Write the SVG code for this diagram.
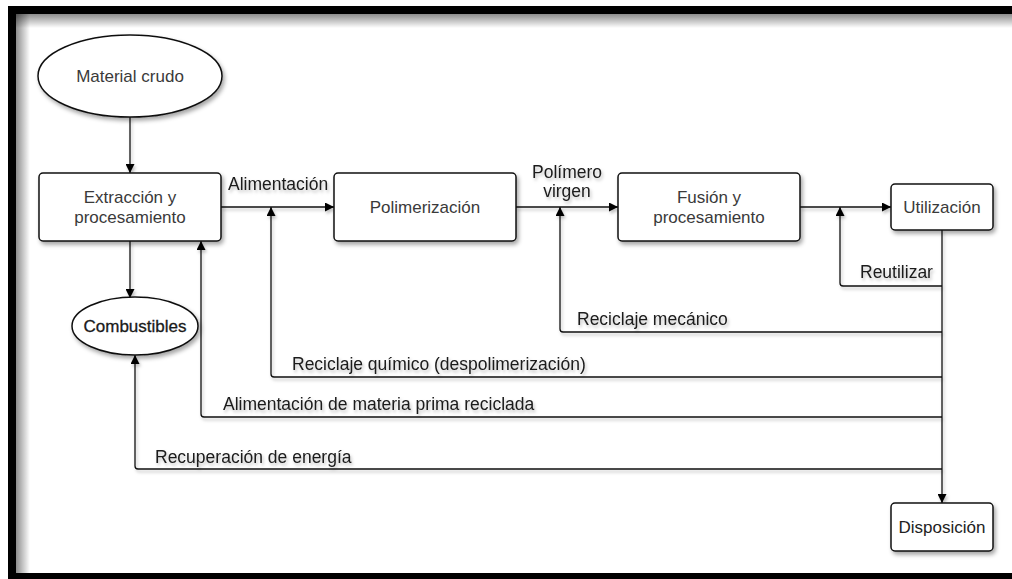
<svg xmlns="http://www.w3.org/2000/svg" width="1012" height="579" viewBox="0 0 1012 579">
  <defs>
    <style>
      .node { fill: #ffffff; stroke: #111111; stroke-width: 1.5; }
      .ntext { font-family: "Liberation Sans", Arial, sans-serif; font-size: 17px; fill: #3a3a3a; text-anchor: middle; }
      .ltext { font-family: "Liberation Sans", Arial, sans-serif; font-size: 17.5px; fill: #1a1a1a; }
      .wire { fill: none; stroke: #111111; stroke-width: 1.3; }
    </style>
    <filter id="shadow" x="-10%" y="-10%" width="130%" height="140%">
      <feDropShadow dx="2" dy="3" stdDeviation="2" flood-color="#000" flood-opacity="0.35"/>
    </filter>
    <filter id="tshadow" x="-5%" y="-30%" width="110%" height="170%">
      <feDropShadow dx="1.5" dy="2.5" stdDeviation="1.5" flood-color="#000" flood-opacity="0.25"/>
    </filter>
    <marker id="arrow" viewBox="0 0 10 10" refX="10" refY="5" markerWidth="9" markerHeight="9" markerUnits="userSpaceOnUse" orient="auto">
      <path d="M0,0 L10,5 L0,10 Z" fill="#000"/>
    </marker>
    <linearGradient id="edgeL" x1="0" y1="0" x2="1" y2="0">
      <stop offset="0" stop-color="#000" stop-opacity="0.45"/>
      <stop offset="1" stop-color="#000" stop-opacity="0"/>
    </linearGradient>
    <linearGradient id="edgeT" x1="0" y1="0" x2="0" y2="1">
      <stop offset="0" stop-color="#000" stop-opacity="0.45"/>
      <stop offset="1" stop-color="#000" stop-opacity="0"/>
    </linearGradient>
  </defs>

  <!-- page and frame -->
  <rect x="0" y="0" width="1012" height="579" fill="#ffffff"/>
  <path d="M8,6 H1012 V579 H8 Z M16,14 V573 H1012 V14 Z" fill="#000" fill-rule="evenodd"/>
  <rect x="16" y="14" width="14" height="559" fill="url(#edgeL)"/>
  <rect x="16" y="14" width="996" height="14" fill="url(#edgeT)"/>

  <!-- connectors -->
  <g id="connectors" filter="url(#tshadow)">
    <line class="wire" x1="130" y1="117" x2="130" y2="173" marker-end="url(#arrow)"/>
    <line class="wire" x1="221" y1="207" x2="334" y2="207" marker-end="url(#arrow)"/>
    <line class="wire" x1="516" y1="207" x2="618" y2="207" marker-end="url(#arrow)"/>
    <line class="wire" x1="800" y1="207" x2="891" y2="207" marker-end="url(#arrow)"/>
    <line class="wire" x1="130" y1="241" x2="130" y2="298" marker-end="url(#arrow)"/>
    <line class="wire" x1="942" y1="230" x2="942" y2="503" marker-end="url(#arrow)"/>
    <path class="wire" d="M942,286 H843 Q840,286 840,283 V207" marker-end="url(#arrow)"/>
    <path class="wire" d="M942,332 H563 Q560,332 560,329 V207" marker-end="url(#arrow)"/>
    <path class="wire" d="M942,377 H274 Q271,377 271,374 V207" marker-end="url(#arrow)"/>
    <path class="wire" d="M942,417 H204 Q201,417 201,414 V241" marker-end="url(#arrow)"/>
    <path class="wire" d="M942,469 H138 Q135,469 135,466 V355" marker-end="url(#arrow)"/>
  </g>

  <!-- connector labels -->
  <g id="labels" filter="url(#tshadow)">
    <text class="ltext" x="228" y="190">Alimentación</text>
    <text class="ltext" x="567" y="178" text-anchor="middle">Polímero</text>
    <text class="ltext" x="567" y="197" text-anchor="middle">virgen</text>
    <text class="ltext" x="860" y="278">Reutilizar</text>
    <text class="ltext" x="577" y="325">Reciclaje mecánico</text>
    <text class="ltext" x="292" y="370">Reciclaje químico (despolimerización)</text>
    <text class="ltext" x="223" y="410">Alimentación de materia prima reciclada</text>
    <text class="ltext" x="155" y="463">Recuperación de energía</text>
  </g>

  <!-- nodes -->
  <g id="material-crudo">
    <ellipse class="node" cx="130" cy="76" rx="92" ry="41" filter="url(#shadow)"/>
    <text class="ntext" x="130" y="82">Material crudo</text>
  </g>
  <g id="extraccion">
    <rect class="node" x="39" y="173" width="182" height="68" rx="4" filter="url(#shadow)"/>
    <text class="ntext" x="130" y="203">Extracción y</text>
    <text class="ntext" x="130" y="223">procesamiento</text>
  </g>
  <g id="polimerizacion">
    <rect class="node" x="334" y="173" width="182" height="68" rx="4" filter="url(#shadow)"/>
    <text class="ntext" x="425" y="213">Polimerización</text>
  </g>
  <g id="fusion">
    <rect class="node" x="618" y="173" width="182" height="68" rx="4" filter="url(#shadow)"/>
    <text class="ntext" x="709" y="203">Fusión y</text>
    <text class="ntext" x="709" y="223">procesamiento</text>
  </g>
  <g id="utilizacion">
    <rect class="node" x="891" y="184" width="102" height="46" rx="4" filter="url(#shadow)"/>
    <text class="ntext" x="942" y="213">Utilización</text>
  </g>
  <g id="combustibles">
    <ellipse class="node" cx="135" cy="326" rx="63" ry="29" filter="url(#shadow)"/>
    <text class="ntext" x="135" y="332" style="fill:#1a1a1a; stroke:#1a1a1a; stroke-width:0.3">Combustibles</text>
  </g>
  <g id="disposicion">
    <rect class="node" x="891" y="503" width="102" height="48" rx="4" filter="url(#shadow)"/>
    <text class="ntext" x="942" y="533" style="fill:#222">Disposición</text>
  </g>
</svg>
